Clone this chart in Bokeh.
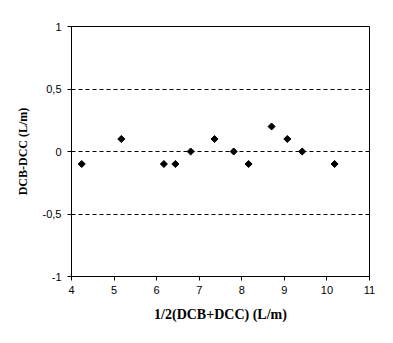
import math
from bokeh.plotting import figure
from bokeh.models import Range1d, FixedTicker, ColumnDataSource
from bokeh.embed import file_html
from bokeh.resources import INLINE

# Data
mean_vals = [4.24, 5.17, 6.17, 6.44, 6.80, 7.36, 7.81, 8.16, 8.70, 9.07, 9.42, 10.18]
diff_vals = [-0.1, 0.1, -0.1, -0.1, 0.0, 0.1, 0.0, -0.1, 0.2, 0.1, 0.0, -0.1]

x_ticks = [4, 5, 6, 7, 8, 9, 10, 11]
y_ticks = [-1, -0.5, 0, 0.5, 1]
y_tick_labels = ["-1", "-0,5", "0", "0,5", "1"]
ref_lines = [-0.5, 0, 0.5]

x_title = "1/2(DCB+DCC) (L/m)"
y_title = "DCB-DCC (L/m)"

p = figure(width=393, height=343, output_backend="svg", toolbar_location=None,
           x_range=Range1d(4, 11), y_range=Range1d(-1, 1))
p.min_border_left = 71
p.min_border_right = 24
p.min_border_top = 26
p.min_border_bottom = 67
p.background_fill_color = "white"
p.border_fill_color = "white"
p.outline_line_color = "black"
p.outline_line_width = 1
p.outline_line_alpha = 1

p.xgrid.visible = False
p.ygrid.ticker = FixedTicker(ticks=ref_lines)
p.ygrid.grid_line_color = "black"
p.ygrid.grid_line_dash = "4 3"
p.ygrid.grid_line_width = 1

for ax in (p.xaxis[0], p.yaxis[0]):
    ax.axis_line_color = "black"
    ax.major_tick_line_color = "black"
    ax.major_tick_in = 0
    ax.major_tick_out = 4
    ax.minor_tick_line_color = None
    ax.major_label_text_font = "Liberation Sans"
    ax.major_label_text_font_size = "11px"
    ax.major_label_text_color = "black"
    ax.axis_label_text_font = "Liberation Serif"
    ax.axis_label_text_font_style = "bold"
    ax.axis_label_text_color = "black"

p.xaxis[0].axis_label_text_font_size = "14px"
p.yaxis[0].axis_label_text_font_size = "12px"
p.xaxis[0].ticker = FixedTicker(ticks=x_ticks)
p.yaxis[0].ticker = FixedTicker(ticks=y_ticks)
p.yaxis[0].major_label_overrides = {t: l for t, l in zip(y_ticks, y_tick_labels)}
p.xaxis[0].axis_label = x_title
p.yaxis[0].axis_label = y_title
p.xaxis[0].major_label_standoff = 5
p.xaxis[0].axis_label_standoff = 10
p.yaxis[0].major_label_standoff = 6
p.yaxis[0].axis_label_standoff = 10

src = ColumnDataSource(dict(x=mean_vals, y=diff_vals))
p.scatter("x", "y", source=src, marker="square", angle=math.pi / 4, size=5,
          fill_color="black", line_color="black")

open("out.html", "w").write(file_html(p, INLINE))
